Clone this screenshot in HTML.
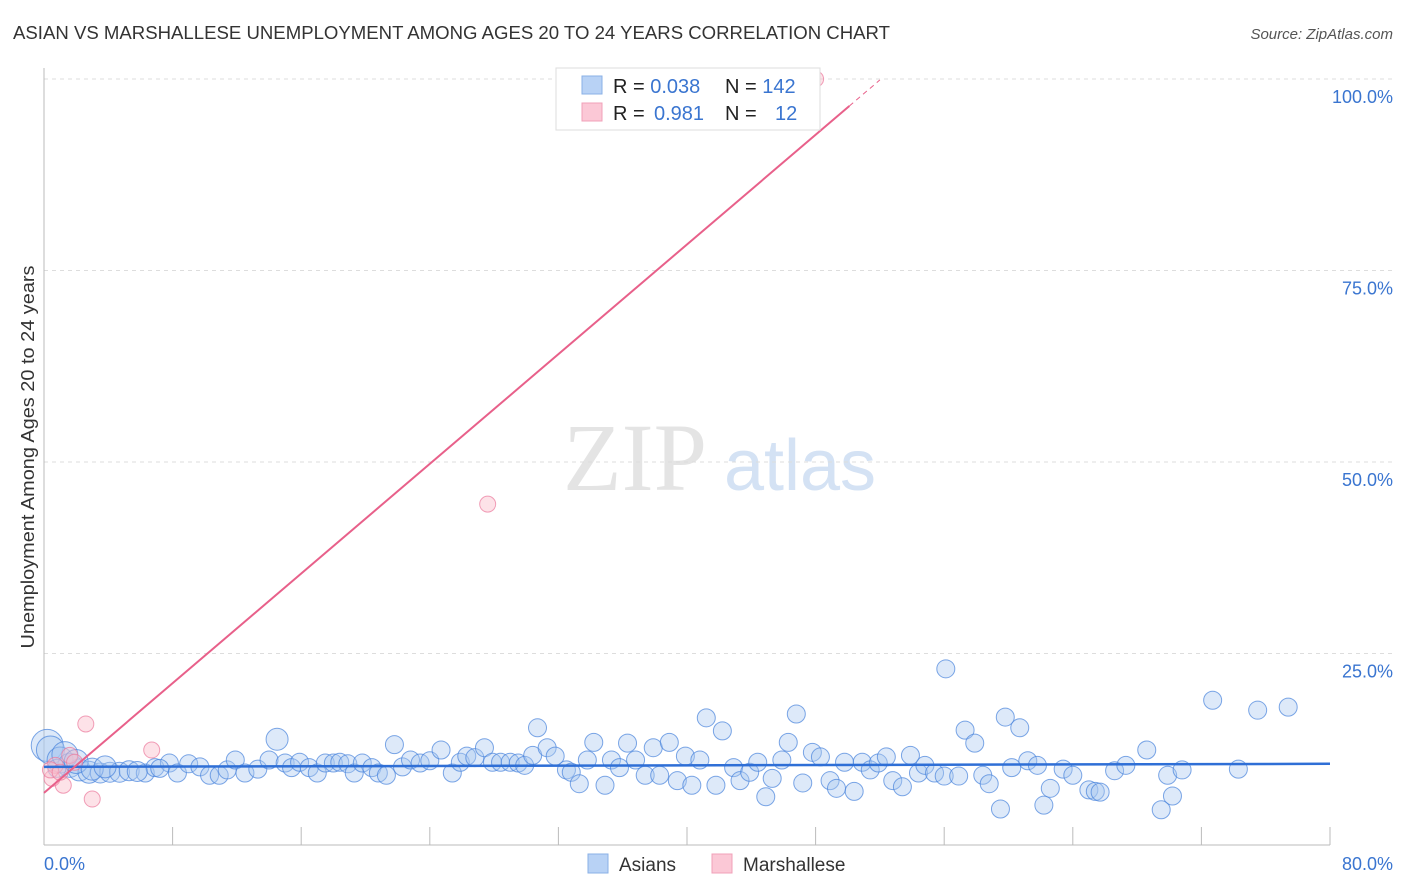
<!DOCTYPE html>
<html><head><meta charset="utf-8"><style>
body{margin:0;background:#fff;font-family:"Liberation Sans",sans-serif;}
svg{display:block}
</style></head><body>
<svg id="chart" width="1406" height="892">
<text x="13" y="39" font-size="18" fill="#333" textLength="877" lengthAdjust="spacingAndGlyphs">ASIAN VS MARSHALLESE UNEMPLOYMENT AMONG AGES 20 TO 24 YEARS CORRELATION CHART</text>
<text x="1393" y="39" font-size="15" fill="#555" font-style="italic" text-anchor="end">Source: ZipAtlas.com</text>
<text transform="translate(34,457) rotate(-90)" font-size="18" fill="#333" text-anchor="middle" textLength="383" lengthAdjust="spacingAndGlyphs">Unemployment Among Ages 20 to 24 years</text>
<g><text x="635" y="490" font-size="96" font-family="Liberation Serif,serif" fill="#e4e4e4" text-anchor="middle">ZIP</text><text x="800" y="490" font-size="72" fill="#d4e2f4" text-anchor="middle">atlas</text></g>
<g id="grid"></g><g id="axes"></g><g id="marks"></g>
<g>
<rect x="556" y="68" width="264" height="62" fill="#fff" stroke="#ddd"/>
<rect x="582" y="76" width="20" height="18" fill="#b8d2f5" stroke="#8ab0e6"/>
<rect x="582" y="103" width="20" height="18" fill="#fbc8d6" stroke="#f0a0b8"/>
<text x="613" y="93" font-size="20" fill="#222">R = <tspan fill="#3a75d0">0.038</tspan><tspan x="725">N = </tspan><tspan fill="#3a75d0">142</tspan></text>
<text x="613" y="120" font-size="20" fill="#222">R = <tspan fill="#3a75d0" x="654">0.981</tspan><tspan x="725">N = </tspan><tspan fill="#3a75d0" x="775">12</tspan></text>
</g>
<g>
<rect x="588" y="854" width="20" height="19" fill="#b8d2f5" stroke="#8ab0e6"/>
<text x="619" y="871" font-size="19" fill="#333">Asians</text>
<rect x="712" y="854" width="20" height="19" fill="#fbc8d6" stroke="#f0a0b8"/>
<text x="743" y="871" font-size="19" fill="#333">Marshallese</text>
</g>
</svg>
<script>
const yTicks=[25,50,75,100];
const yTickLabels=["25.0%","50.0%","75.0%","100.0%"];
const xTickVals=[8,16,24,32,40,48,56,64,72,80];
const asianX=[0.2,0.4,1.0,1.6,2.2,2.8,3.5,4.1,4.7,5.3,6.3,6.9,7.8,8.3,9.0,9.7,10.3,10.9,11.4,11.9,12.5,13.3,14.0,14.5,15.0,15.4,15.9,16.5,17.0,17.5,18.0,18.4,18.9,19.3,19.8,20.4,20.8,21.3,21.8,22.3,22.8,23.4,24.0,24.7,25.4,25.9,26.3,26.8,27.4,27.9,28.4,29.0,29.5,29.9,30.4,30.7,31.3,31.8,32.5,32.8,33.3,33.8,34.2,34.9,35.3,35.8,36.3,36.8,37.4,37.9,38.3,38.9,39.4,39.9,40.3,40.8,41.2,41.8,42.2,42.9,43.3,43.9,44.4,44.9,45.3,45.9,46.3,46.8,47.2,47.8,48.3,48.9,49.3,49.8,50.4,50.9,51.4,51.9,52.4,52.8,53.4,53.9,54.4,54.8,55.4,56.1,56.0,56.9,57.3,57.9,58.4,58.8,59.5,59.8,60.2,60.7,61.2,61.8,62.2,62.6,63.4,64.0,65.0,65.4,65.7,66.6,67.3,68.6,69.5,69.9,70.2,70.8,72.7,74.3,75.5,77.4,0.8,1.3,2.0,3.0,3.8,5.8,7.2];
const asianY=[13.0,12.4,11.1,10.4,9.8,9.5,9.4,9.5,9.5,9.7,9.4,10.1,10.7,9.4,10.6,10.2,9.1,9.1,9.8,11.1,9.4,9.9,11.1,13.8,10.7,10.1,10.8,10.1,9.4,10.7,10.7,10.8,10.6,9.4,10.7,10.1,9.4,9.1,13.1,10.2,11.1,10.7,11.0,12.4,9.4,10.8,11.6,11.4,12.7,10.8,10.8,10.8,10.7,10.4,11.7,15.3,12.7,11.6,9.8,9.5,8.0,11.1,13.4,7.8,11.1,10.1,13.3,11.1,9.1,12.7,9.1,13.4,8.4,11.6,7.8,11.1,16.6,7.8,14.9,10.1,8.4,9.5,10.8,6.3,8.7,11.1,13.4,17.1,8.1,12.1,11.5,8.4,7.4,10.8,7.0,10.8,9.8,10.7,11.5,8.4,7.6,11.7,9.4,10.4,9.4,23.0,9.0,9.0,15.0,13.3,9.1,8.0,4.7,16.7,10.1,15.3,11.0,10.4,5.2,7.4,9.9,9.1,7.2,7.0,6.9,9.7,10.4,12.4,4.6,9.1,6.4,9.8,18.9,9.9,17.6,18.0,10.0,11.8,10.9,9.9,10.2,9.6,10.0];
const asianR=[16,14,13,12,11,11,10,10,10,10,9,9,9,9,9,9,9,9,9,9,9,9,9,11,9,9,9,9,9,9,9,9,9,9,9,9,9,9,9,9,9,9,9,9,9,9,9,9,9,9,9,9,9,9,9,9,9,9,9,9,9,9,9,9,9,9,9,9,9,9,9,9,9,9,9,9,9,9,9,9,9,9,9,9,9,9,9,9,9,9,9,9,9,9,9,9,9,9,9,9,9,9,9,9,9,9,9,9,9,9,9,9,9,9,9,9,9,9,9,9,9,9,9,9,9,9,9,9,9,9,9,9,9,9,9,9,9,13,12,11,11,10,9,9];
const marshX=[48.0,27.6,2.6,6.7,3.0,1.2,0.5,0.7,1.6,1.9,0.4,1.0];
const marshY=[100,44.5,15.8,12.4,6.0,7.8,8.7,10.4,11.7,10.8,9.8,9.5];
const asianFit=[10.2,10.6];
const marshFit=[6.8,1.79];
const NS="http://www.w3.org/2000/svg";
const X=v=>44+v*1286/80, Y=v=>845-v*7.66;
function mk(p,t,a){const e=document.createElementNS(NS,t);for(const k in a)e.setAttribute(k,a[k]);document.getElementById(p).appendChild(e);return e;}
yTicks.forEach((t,i)=>{
 const l=mk('grid','line',{x1:44,x2:1393,y1:Y(t),y2:Y(t),stroke:'#ddd','stroke-dasharray':'4,4'});
 
 
 const tx=mk('grid','text',{x:1393,y:Y(t)+24,'font-size':18,fill:'#3a75d0','text-anchor':'end'});
 tx.textContent=yTickLabels[i];
 
 
});
let a=mk('axes','line',{x1:44,x2:44,y1:68,y2:845,stroke:'#bbb'});

a=mk('axes','line',{x1:44,x2:1330,y1:845,y2:845,stroke:'#bbb'});

xTickVals.forEach(v=>{const t=mk('axes','line',{x1:X(v),x2:X(v),y1:827,y2:845,stroke:'#bbb'});
 });
let t=mk('axes','text',{x:44,y:870,'font-size':18,fill:'#3a75d0'});t.textContent='0.0%';

t=mk('axes','text',{x:1393,y:870,'font-size':18,fill:'#3a75d0','text-anchor':'end'});t.textContent='80.0%';

asianX.forEach((x,i)=>{const c=mk('marks','circle',{cx:X(x),cy:Y(asianY[i]),r:asianR[i]||9,fill:'rgba(170,200,240,0.4)',stroke:'rgba(70,130,220,0.7)','stroke-width':1});
 });
marshX.forEach((x,i)=>{const c=mk('marks','circle',{cx:X(x),cy:Y(marshY[i]),r:8,fill:'rgba(250,190,205,0.45)',stroke:'rgba(235,120,155,0.7)','stroke-width':1});
 });
let l=mk('marks','line',{x1:X(0),x2:X(80),y1:Y(asianFit[0]),y2:Y(asianFit[1]),stroke:'#2f6fd6','stroke-width':2.5});

l=mk('marks','line',{x1:X(0),x2:X(50.1),y1:Y(marshFit[0]),y2:Y(marshFit[0]+marshFit[1]*50.1),stroke:'#e8608a','stroke-width':2});

l=mk('marks','line',{x1:X(50.1),x2:X(52),y1:Y(marshFit[0]+marshFit[1]*50.1),y2:Y(marshFit[0]+marshFit[1]*52),stroke:'#e8608a','stroke-width':1,'stroke-dasharray':'5,4'});

</script>
</body></html>
